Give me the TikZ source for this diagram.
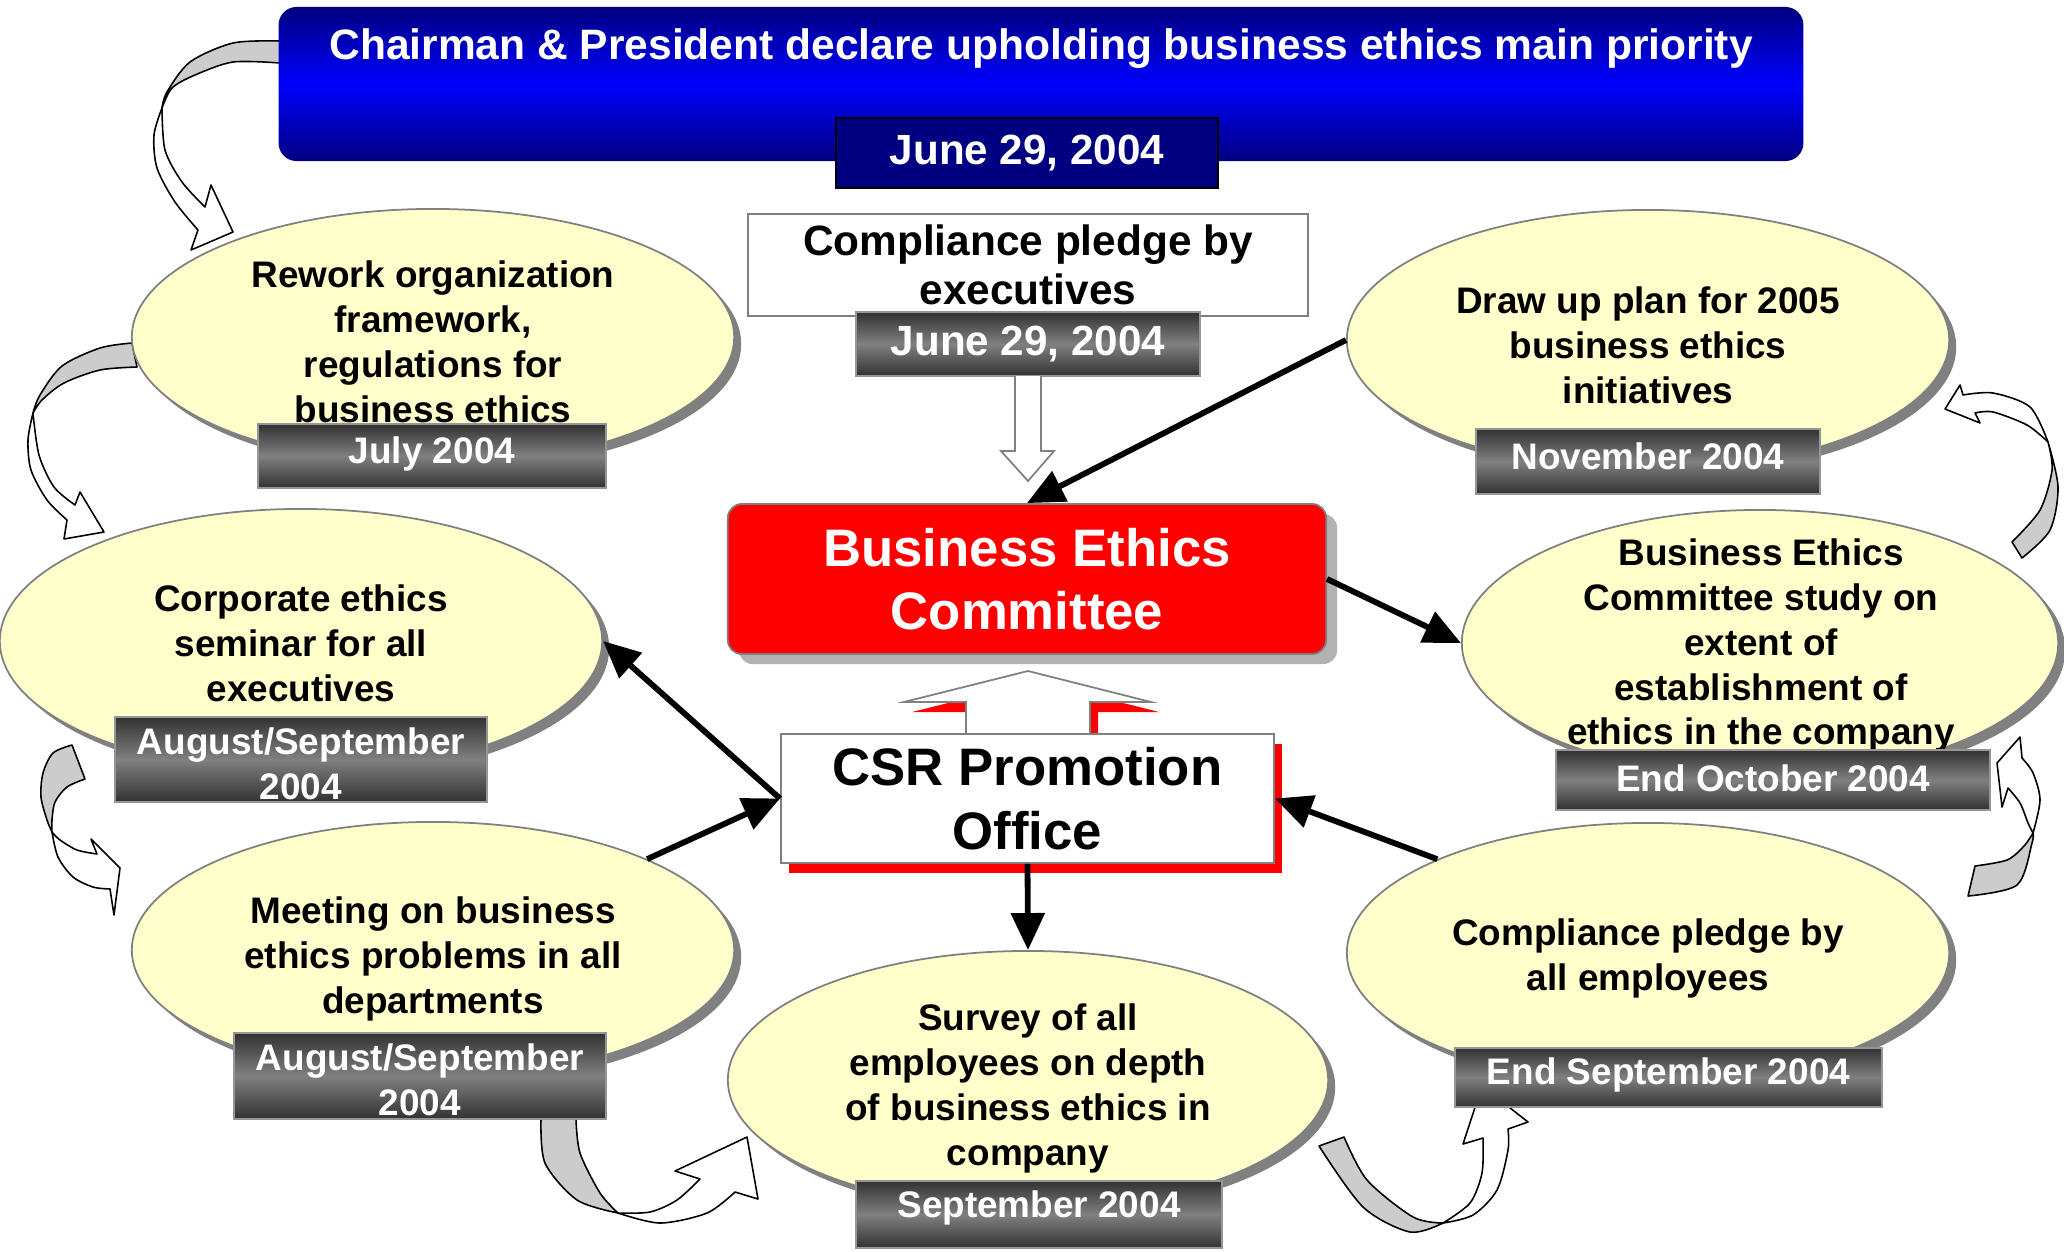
\documentclass[tikz,border=0pt]{standalone}
\usepackage{fontspec}
\setmainfont{Liberation Sans}
\usetikzlibrary{shapes.geometric,shadows,arrows.meta}

\definecolor{navyband}{RGB}{0,0,128}
\definecolor{brightblue}{RGB}{0,0,255}
\definecolor{bubblefill}{RGB}{255,255,204}
\definecolor{edgegray}{RGB}{128,128,128}
\definecolor{bubbleshadow}{RGB}{128,128,128}
\definecolor{datedark}{RGB}{50,50,50}
\definecolor{datemid}{RGB}{128,128,128}
\definecolor{dateedge}{RGB}{150,150,150}
\definecolor{bandgray}{RGB}{204,204,204}
\definecolor{becshadow}{RGB}{178,178,178}
\definecolor{alertred}{RGB}{255,0,0}

\begin{document}
\begin{tikzpicture}[x=0.01cm,y=-0.01cm,
  bubble/.style={ellipse, draw=edgegray, fill=bubblefill, line width=0.5pt,
    inner sep=0pt, general shadow={fill=bubbleshadow, shadow xshift=0.07cm, shadow yshift=-0.07cm}},
  bubbletext/.style={align=center, inner sep=0pt, font=\fontsize{10.5}{12.75}\selectfont\bfseries},
  datebox/.style={rectangle, draw=dateedge, line width=0.6pt, top color=datedark,
    bottom color=datedark, middle color=datemid, inner sep=0pt},
  datetext/.style={text=white, align=center, inner sep=0pt,
    font=\fontsize{10.5}{12.75}\selectfont\bfseries},
  bigdate/.style={datebox, text=white, font=\fontsize{12}{14}\selectfont\bfseries},
  band/.style={draw=black, line width=0.45pt, line join=round},
  link/.style={line width=1.65pt, -{Triangle[length=3.7mm,width=3.3mm]}},
  hollow/.style={draw=edgegray, line width=0.5pt, fill=white, line join=miter}
]
\useasboundingbox (0,0) rectangle (2064,1251);

% ---- curved cycle arrows (back face grey, front face white) ----
% banner -> rework
\draw[band, fill=bandgray] plot[smooth] coordinates {(280,41) (233,43) (190,62) (167,92) (162,108)}
  -- plot[smooth] coordinates {(162,108) (172,88) (195,75) (233,62) (280,63)} -- cycle;
\draw[band, fill=white] plot[smooth] coordinates {(162,108) (154,135) (157,168) (175,202) (198,230)}
  -- (191,250) -- (233,232) -- (211,185) -- (205,207)
  -- plot[smooth] coordinates {(205,207) (182,182) (165,150) (162,108)} -- cycle;
% rework -> corporate seminar
\draw[band, fill=bandgray] plot[smooth] coordinates {(132,343) (100,348) (62,366) (40,395) (33,413)}
  -- plot[smooth] coordinates {(33,413) (42,400) (64,383) (100,370) (137,367)} -- cycle;
\draw[band, fill=white] plot[smooth] coordinates {(33,413) (28,440) (31,470) (47,500) (67,520)}
  -- (64,539) -- (104,532) -- (80,492) -- (75,505)
  -- plot[smooth] coordinates {(75,505) (54,487) (39,455) (33,413)} -- cycle;
% corporate seminar -> meeting
\draw[band, fill=bandgray] (72,745) -- (85,779)
  -- plot[smooth] coordinates {(85,779) (67,787) (55,802) (52,820) (52,832)}
  -- plot[smooth] coordinates {(52,832) (47,820) (41,797) (43,773) (53,753) (72,745)} -- cycle;
\draw[band, fill=white] plot[smooth] coordinates {(52,832) (58,857) (73,877) (93,887) (110,889)}
  -- (114,915) -- (120,868) -- (91,839) -- (97,854)
  -- plot[smooth] coordinates {(97,854) (77,850) (60,840) (52,832)} -- cycle;
% meeting -> survey
\draw[band, fill=bandgray] plot[smooth] coordinates {(541,1119) (545,1163) (577,1200) (618,1213)}
  -- plot[smooth] coordinates {(618,1213) (600,1193) (580,1153) (576,1119)} -- cycle;
\draw[band, fill=white] plot[smooth] coordinates {(618,1213) (660,1223) (707,1213) (735,1192)}
  -- (758,1199) -- (747,1137) -- (675,1171) -- (700,1179)
  -- plot[smooth] coordinates {(700,1179) (677,1200) (650,1212) (618,1213)} -- cycle;
% survey -> compliance of all employees
\draw[band, fill=bandgray] (1319,1146) -- (1344,1137)
  -- plot[smooth] coordinates {(1344,1137) (1367,1180) (1413,1217) (1443,1223)}
  -- plot[smooth] coordinates {(1443,1223) (1410,1232) (1363,1207) (1319,1146)} -- cycle;
\draw[band, fill=white] plot[smooth] coordinates {(1443,1223) (1473,1215) (1497,1190) (1508,1150) (1508,1129)}
  -- (1528,1122) -- (1482,1086) -- (1463,1144) -- (1483,1138)
  -- plot[smooth] coordinates {(1483,1138) (1482,1173) (1470,1203) (1443,1223)} -- cycle;
% compliance -> committee study
\draw[band, fill=bandgray] plot[smooth] coordinates {(1968,896) (2017,885) (2032,843) (2033,833)}
  -- plot[smooth] coordinates {(2033,833) (2024,846) (2007,860) (1975,866)} -- cycle;
\draw[band, fill=white] plot[smooth] coordinates {(2033,833) (2040,800) (2033,773) (2022,758)}
  -- (2020,737) -- (1997,763) -- (2002,807) -- (2008,788)
  -- plot[smooth] coordinates {(2008,788) (2020,803) (2028,823) (2033,833)} -- cycle;
% committee study -> plan for 2005
\draw[band, fill=bandgray] (2012,542) -- (2022,558)
  -- plot[smooth] coordinates {(2022,558) (2050,530) (2058,487) (2048,442)}
  -- plot[smooth] coordinates {(2048,442) (2052,470) (2040,510) (2012,542)} -- cycle;
\draw[band, fill=white] plot[smooth] coordinates {(2048,442) (2030,407) (1993,393) (1963,395)}
  -- (1960,385) -- (1945,409) -- (1980,423) -- (1975,413)
  -- plot[smooth] coordinates {(1975,413) (1993,412) (2027,425) (2048,442)} -- cycle;

% ---- top banner ----
\node[rectangle, rounded corners=0.18cm, minimum width=15.24cm, minimum height=1.54cm,
  top color=navyband, bottom color=navyband, middle color=brightblue] (banner) at (1041,84) {};
\node[text=white, inner sep=0pt, font=\fontsize{12.1}{14}\selectfont\bfseries] (title) at (1041,48.5)
  {Chairman \& President declare upholding business ethics main priority};
\node[rectangle, draw=black, line width=0.6pt, fill=navyband, text=white, inner sep=0pt,
  minimum width=3.81cm, minimum height=0.70cm, font=\fontsize{12}{14}\selectfont\bfseries]
  (bdate) at (1027,153) {June 29, 2004};

% ---- executives pledge ----
\node[rectangle, draw=edgegray, line width=0.5pt, fill=white, align=center, inner sep=0pt,
  minimum width=5.60cm, minimum height=1.02cm, font=\fontsize{12.05}{13.9}\selectfont\bfseries]
  (cexec) at (1028,265) {Compliance pledge by\\executives};
\node[bigdate, minimum width=3.44cm, minimum height=0.64cm] (jdate) at (1028,344) {June 29, 2004};
\draw[hollow] (1015,376) -- (1015,451) -- (1001,451) -- (1028,481) -- (1054,451) -- (1041,451) -- (1041,376);

% ---- committee ----
\node[rectangle, rounded corners=0.14cm, draw=edgegray, line width=0.5pt, fill=alertred,
  text=white, align=center, inner sep=0pt, minimum width=5.98cm, minimum height=1.50cm,
  general shadow={fill=becshadow, shadow xshift=0.11cm, shadow yshift=-0.10cm},
  font=\fontsize{15}{18}\selectfont\bfseries] (bec) at (1027,579) {Business Ethics\\Committee};

% ---- wide hollow arrow from the office up to the committee ----
\fill[alertred] (974,743) -- (974,712) -- (912,712) -- (1036,681) -- (1159,712) -- (1098,712) -- (1098,743) -- cycle;
\draw[hollow] (966,733) -- (966,702) -- (904,702) -- (1028,671) -- (1151,702) -- (1090,702) -- (1090,733);

% ---- CSR office ----
\node[rectangle, draw=edgegray, line width=0.5pt, fill=white, align=center, inner sep=0pt,
  minimum width=4.93cm, minimum height=1.29cm,
  general shadow={fill=alertred, shadow xshift=0.08cm, shadow yshift=-0.10cm},
  font=\fontsize{15}{18}\selectfont\bfseries] (csr) at (1027.5,798.5) {CSR Promotion\\Office};

% ---- activity bubbles with their dates ----
\node[bubble, minimum width=6.02cm, minimum height=2.56cm] (rework) at (433,337) {};
\node[bubbletext] (reworkT) at (433,342) {Rework organization\\framework,\\regulations for\\business ethics};
\node[datebox, minimum width=3.48cm, minimum height=0.64cm] (reworkD) at (432,456) {};
\node[datetext] (reworkL) at (432,453.5) {July 2004};

\node[bubble, minimum width=6.02cm, minimum height=2.64cm] (corp) at (301,641) {};
\node[bubbletext] (corpT) at (301,643) {Corporate ethics\\seminar for all\\executives};
\node[datebox, minimum width=3.72cm, minimum height=0.85cm] (corpD) at (301,759.5) {};
\node[datetext] (corpL) at (301,763.5) {August/September\\2004};

\node[bubble, minimum width=6.02cm, minimum height=2.56cm] (meet) at (433,950) {};
\node[bubbletext] (meetT) at (433,958.6) {Meeting on business\\ethics problems in all\\departments};
\node[datebox, minimum width=3.72cm, minimum height=0.86cm] (meetD) at (420,1076) {};
\node[datetext] (meetL) at (420,1080) {August/September\\2004};

\node[bubble, minimum width=6.00cm, minimum height=2.58cm] (survey) at (1028,1080) {};
\node[bubbletext] (surveyT) at (1028,1088.6) {Survey of all\\employees on depth\\of business ethics in\\company};
\node[datebox, minimum width=3.66cm, minimum height=0.67cm] (surveyD) at (1039,1214.5) {};
\node[datetext] (surveyL) at (1039,1207.7) {September 2004};

\node[bubble, minimum width=6.02cm, minimum height=2.60cm] (comp) at (1648,953) {};
\node[bubbletext] (compT) at (1648,958.6) {Compliance pledge by\\all employees};
\node[datebox, minimum width=4.27cm, minimum height=0.59cm] (compD) at (1668.5,1077.5) {};
\node[datetext] (compL) at (1668.5,1074.8) {End September 2004};

\node[bubble, minimum width=5.96cm, minimum height=2.66cm] (study) at (1760,643) {};
\node[bubbletext] (studyT) at (1761,645.6) {Business Ethics\\Committee study on\\extent of\\establishment of\\ethics in the company};
\node[datebox, minimum width=4.34cm, minimum height=0.60cm] (studyD) at (1773,780) {};
\node[datetext] (studyL) at (1773,778.6) {End October 2004};

\node[bubble, minimum width=6.02cm, minimum height=2.60cm] (plan) at (1648,340) {};
\node[bubbletext] (planT) at (1648,345) {Draw up plan for 2005\\business ethics\\initiatives};
\node[datebox, minimum width=3.44cm, minimum height=0.65cm] (planD) at (1648,461.5) {};
\node[datetext] (planL) at (1648,456) {November 2004};

% ---- black connectors ----
\draw[link] (plan.west) -- (bec.north);
\draw[link] (bec.east) -- (study.west);
\draw[link] (csr.west) -- (corp.east);
\draw[link] (meet.23) -- (csr.west);
\draw[link] (comp.156) -- (csr.east);
\draw[link] (csr.south) -- (survey.north);
\end{tikzpicture}
\end{document}
